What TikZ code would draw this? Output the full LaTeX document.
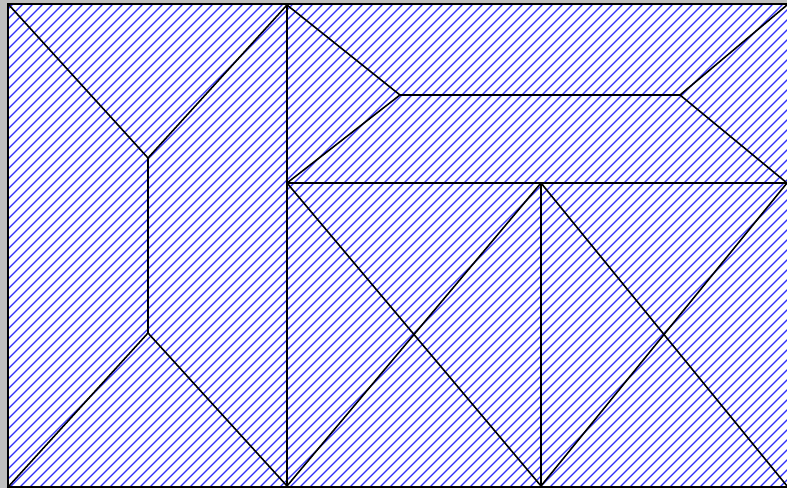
\documentclass[tikz,border=0pt]{standalone}
\usetikzlibrary{calc}
\begin{document}
\begin{tikzpicture}[x=0.01cm,y=-0.01cm]
\tikzstyle{hatch}=[draw={rgb,255:red,50;green,50;blue,250},line width=0.4pt]
\tikzstyle{edge}=[draw=black,line width=0.45pt]
\tikzstyle{frame}=[draw=black,line width=0.55pt]
\fill[black!25] (0,0) rectangle (787,488);
\useasboundingbox (0,0) rectangle (787,488);
\fill[white] (8,4) rectangle (790,490);
% hatching
\begin{scope}
\clip (8,4) rectangle (787,487);
\foreach \c in {7,17,...,1297} \draw[hatch] (\c,0) -- (\c-500,500);
\end{scope}
% corner points of the partition
\coordinate (tl) at (9,5);
\coordinate (tm) at (287,5);
\coordinate (tr) at (787,5);
\coordinate (bl) at (9,486);
\coordinate (bm) at (287,486);
\coordinate (bn) at (541,486);
\coordinate (br) at (787,486);
\coordinate (lu) at (148,158);
\coordinate (ld) at (148,333);
\coordinate (mid) at (287,183);
\coordinate (cn) at (541,183);
\coordinate (rmid) at (787,183);
\coordinate (ua) at (400,95);
\coordinate (ub) at (680,95);
% frame
\draw[frame] (787,4) -- (8,4) -- (8,487) -- (787,487);
% left part
\draw[edge] (tm) -- (bm);
\draw[edge] (tl) -- (lu) -- (tm);
\draw[edge] (lu) -- (ld);
\draw[edge] (bl) -- (ld) -- (bm);
% upper right part
\draw[edge] (mid) -- (rmid);
\draw[edge] (tm) -- (ua) -- (ub) -- (tr);
\draw[edge] (ua) -- (mid);
\draw[edge] (ub) -- (rmid);
% lower right part
\draw[edge] (cn) -- (bn);
\draw[edge] (mid) -- (bn);
\draw[edge] (cn) -- (bm);
\draw[edge] (cn) -- (br);
\draw[edge] (bn) -- (rmid);
\end{tikzpicture}
\end{document}
